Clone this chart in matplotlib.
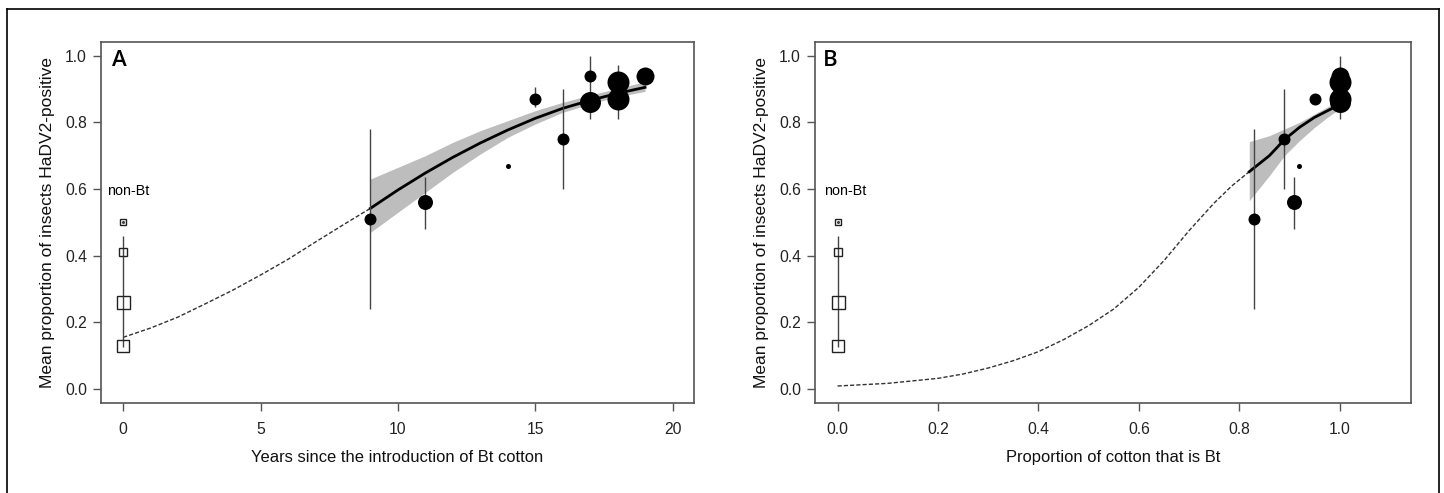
import numpy as np
import matplotlib.pyplot as plt
from matplotlib.lines import Line2D

plt.rcParams['font.family'] = ['Liberation Sans', 'DejaVu Sans']

# --- data ---
# non-Bt fields (open squares), plotted at x = 0 in both panels
nonbt_y = [0.50, 0.41, 0.26, 0.13]
nonbt_size = [6.5, 8.5, 13, 12.5]          # square side, px
nonbt_err = [0.125, 0.459]

# Bt fields
years = [9, 11, 14, 15, 16, 17, 17, 18, 18, 19]
prop_bt = [0.83, 0.91, 0.92, 0.95, 0.89, 1.0, 1.0, 1.0, 1.0, 1.0]
bt_y = [0.51, 0.56, 0.67, 0.87, 0.75, 0.94, 0.86, 0.92, 0.87, 0.94]
bt_size = [12, 15, 5, 12, 12, 12, 21, 22, 22, 18]   # dot diameter, px

# error bars (x, low, high)
errA_x = [9, 11, 15, 16, 17, 18]
errA_lo = [0.24, 0.48, 0.845, 0.60, 0.81, 0.81]
errA_hi = [0.78, 0.635, 0.905, 0.90, 0.998, 0.973]
errB_x = [0.83, 0.89, 0.91, 1.0]
errB_lo = [0.24, 0.60, 0.48, 0.81]
errB_hi = [0.78, 0.90, 0.636, 0.998]

# fitted curve, panel A
fitA_dash_x = [0, 1, 2, 3, 4, 5, 6, 7, 8, 9]
fitA_dash_y = [0.155, 0.183, 0.216, 0.256, 0.297, 0.342, 0.389, 0.441, 0.492, 0.542]
fitA_x = [9, 10, 11, 12, 13, 14, 15, 16, 17, 18, 19]
fitA_y = [0.542, 0.597, 0.648, 0.695, 0.738, 0.777, 0.812, 0.842, 0.866, 0.887, 0.905]
fitA_lo = [0.47, 0.53, 0.59, 0.65, 0.705, 0.755, 0.795, 0.83, 0.855, 0.877, 0.893]
fitA_hi = [0.63, 0.665, 0.70, 0.74, 0.775, 0.805, 0.835, 0.86, 0.882, 0.902, 0.922]

# fitted curve, panel B
fitB_dash_x = [0.0, 0.1, 0.2, 0.25, 0.3, 0.35, 0.4, 0.45, 0.5, 0.55, 0.6,
               0.65, 0.7, 0.75, 0.785, 0.82]
fitB_dash_y = [0.009, 0.017, 0.032, 0.045, 0.063, 0.085, 0.112, 0.148, 0.19,
               0.24, 0.305, 0.385, 0.475, 0.558, 0.609, 0.652]
fitB_x = [0.82, 0.86, 0.89, 0.92, 0.95, 0.98, 1.0]
fitB_y = [0.652, 0.70, 0.748, 0.785, 0.815, 0.838, 0.852]
fitB_lo = [0.565, 0.64, 0.70, 0.745, 0.785, 0.82, 0.84]
fitB_hi = [0.742, 0.76, 0.78, 0.80, 0.825, 0.85, 0.865]

yticks = [0.0, 0.2, 0.4, 0.6, 0.8, 1.0]

fig = plt.figure(figsize=(14.44, 4.93), dpi=100)
axA = fig.add_axes([0.0699, 0.1832, 0.4107, 0.7316])
axB = fig.add_axes([0.5644, 0.1832, 0.4127, 0.7316])

px = 0.72  # points per pixel at 100 dpi


def panel(ax, xb, errx, errlo, errhi, dx, dy, sx, sy, slo, shi,
          xlim, xticks, xticklabels, xlabel, letter, letter_x, nonbt_x):
    ax.fill_between(sx, slo, shi, color='#bdbdbd', lw=0, zorder=1)
    ax.plot(dx, dy, color='#333333', lw=1, ls=(0, (3, 1.5)), zorder=2)
    ax.plot(sx, sy, color='black', lw=2, zorder=3)
    ax.vlines(errx, errlo, errhi, color='#444444', lw=1, zorder=4)
    ax.vlines([0], nonbt_err[0], nonbt_err[1], color='#444444', lw=1, zorder=4)
    for y, s in zip(nonbt_y, nonbt_size):
        ax.plot([0], [y], marker='s', ms=s * px, mfc='none', mec='#222222',
                mew=1, ls='none', zorder=5)
    ax.plot([0], [nonbt_y[0]], marker='o', ms=1.2, color='#444444', zorder=5)
    for x, y, s in zip(xb, bt_y, bt_size):
        ax.plot([x], [y], marker='o', ms=s * px, color='black', mew=0,
                ls='none', zorder=5)
    ax.text(letter_x, 0.985, letter, fontsize=16, va='center', ha='left',
            family=['Open Sans', 'DejaVu Sans'], weight='semibold')
    ax.text(nonbt_x, 0.595, 'non-Bt', fontsize=10.3, va='center', ha='left')
    ax.set_xlim(*xlim)
    ax.set_ylim(-0.041, 1.041)
    ax.set_xticks(xticks)
    ax.set_xticklabels(xticklabels)
    ax.set_yticks(yticks)
    ax.set_yticklabels(['%.1f' % v for v in yticks])
    for sp in ax.spines.values():
        sp.set_color('#555555')
        sp.set_linewidth(1.2)
    ax.tick_params(direction='out', length=6, width=1, color='#555555',
                   labelsize=11.3, labelcolor='#222222', pad=4)
    ax.tick_params(axis='x', pad=8)
    ax.set_xlabel(xlabel, fontsize=11.85, color='#111111', labelpad=9)
    ax.set_ylabel('Mean proportion of insects HaDV2-positive', fontsize=12.5,
                  color='#111111', labelpad=7)


panel(axA, years, errA_x, errA_lo, errA_hi, fitA_dash_x, fitA_dash_y,
      fitA_x, fitA_y, fitA_lo, fitA_hi, (-0.81, 20.78), [0, 5, 10, 15, 20],
      ['0', '5', '10', '15', '20'], 'Years since the introduction of Bt cotton',
      'A', -0.42, -0.58)
panel(axB, prop_bt, errB_x, errB_lo, errB_hi, fitB_dash_x, fitB_dash_y,
      fitB_x, fitB_y, fitB_lo, fitB_hi, (-0.045, 1.142),
      [0.0, 0.2, 0.4, 0.6, 0.8, 1.0], ['0.0', '0.2', '0.4', '0.6', '0.8', '1.0'],
      'Proportion of cotton that is Bt', 'B', -0.03, -0.026)

# outer frame of the figure
W, H = 1444, 493
fx0, fx1, fy1 = 7 / W, 1439 / W, 1 - 9 / H
for xs, ys in [([fx0, fx1], [fy1, fy1]), ([fx0, fx0], [0, fy1]),
               ([fx1, fx1], [0, fy1])]:
    fig.add_artist(Line2D(xs, ys, color='black', lw=1.2,
                          transform=fig.transFigure))

fig.savefig('out.png', dpi=100)
